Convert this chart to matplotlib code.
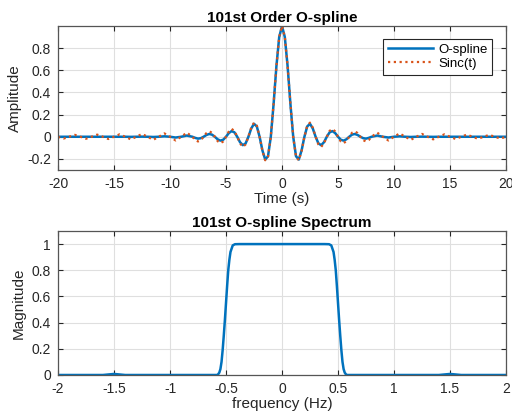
import numpy as np
import matplotlib.pyplot as plt

plt.rcParams['font.family'] = ['Liberation Sans', 'DejaVu Sans']
plt.rcParams['axes.unicode_minus'] = False

# --- time domain: sample times (s) ---
t_left = [-20, -19.5, -19, -18.5, -18, -17.5, -17, -16.5, -16, -15.5, -15, -14.5,
          -14, -13.5, -13, -12.5, -12, -11.5, -11, -10.5, -10, -9.5, -9, -8.5]
t_mid = [-8, -7.75, -7.5, -7.25, -7, -6.75, -6.5, -6.25, -6, -5.75, -5.5, -5.25,
         -5, -4.75, -4.5, -4.25, -4, -3.75, -3.5, -3.25, -3, -2.75, -2.5, -2.25,
         -2, -1.75, -1.5, -1.25, -1, -0.75, -0.5, -0.25, 0,
         0.25, 0.5, 0.75, 1, 1.25, 1.5, 1.75, 2, 2.25, 2.5, 2.75, 3, 3.25, 3.5, 3.75,
         4, 4.25, 4.5, 4.75, 5, 5.25, 5.5, 5.75, 6, 6.25, 6.5, 6.75, 7, 7.25, 7.5, 7.75, 8]
t_right = [8.5, 9, 9.5, 10, 10.5, 11, 11.5, 12, 12.5, 13, 13.5, 14,
           14.5, 15, 15.5, 16, 16.5, 17, 17.5, 18, 18.5, 19, 19.5, 20]

# Sinc(t)
sinc_left = [0, -0.0163, 0, 0.0172, 0, -0.0182, 0, 0.0193, 0, -0.0205, 0, 0.0220,
             0, -0.0236, 0, 0.0255, 0, -0.0277, 0, 0.0303, 0, -0.0335, 0, 0.0374]
sinc_mid = [0, -0.029, -0.0424, -0.031, 0, 0.0333, 0.049, 0.036, 0, -0.0391, -0.0579, -0.0429,
            0, 0.0474, 0.0707, 0.053, 0, -0.060, -0.0909, -0.0693, 0, 0.0818, 0.1273, 0.100,
            0, -0.1286, -0.2122, -0.1801, 0, 0.3001, 0.6366, 0.9003, 1.0,
            0.9003, 0.6366, 0.3001, 0, -0.1801, -0.2122, -0.1286, 0, 0.100, 0.1273, 0.0818,
            0, -0.0693, -0.0909, -0.060, 0, 0.053, 0.0707, 0.0474, 0, -0.0429, -0.0579, -0.0391,
            0, 0.036, 0.049, 0.0333, 0, -0.031, -0.0424, -0.029, 0]
sinc_right = [0.0374, 0, -0.0335, 0, 0.0303, 0, -0.0277, 0, 0.0255, 0, -0.0236, 0,
              0.0220, 0, -0.0205, 0, 0.0193, 0, -0.0182, 0, 0.0172, 0, -0.0163, 0]

# O-spline (side lobes die out faster)
osp_left = [0, 0, 0, 0, 0, 0, 0, 0, 0, 0, 0, 0,
            0, -0.001, 0, 0.001, 0, -0.002, 0, 0.004, 0, -0.007, 0, 0.011]
osp_mid = [0, -0.010, -0.017, -0.013, 0, 0.016, 0.025, 0.019, 0, -0.023, -0.035, -0.027,
           0, 0.033, 0.051, 0.040, 0, -0.049, -0.076, -0.060, 0, 0.074, 0.117, 0.093,
           0, -0.123, -0.206, -0.176, 0, 0.297, 0.637, 0.900, 1.0,
           0.900, 0.637, 0.297, 0, -0.176, -0.206, -0.123, 0, 0.093, 0.117, 0.074,
           0, -0.060, -0.076, -0.049, 0, 0.040, 0.051, 0.033, 0, -0.027, -0.035, -0.023,
           0, 0.019, 0.025, 0.016, 0, -0.013, -0.017, -0.010, 0]
osp_right = [0.011, 0, -0.007, 0, 0.004, 0, -0.002, 0, 0.001, 0, -0.001, 0,
             0, 0, 0, 0, 0, 0, 0, 0, 0, 0, 0, 0]

# --- spectrum ---
freq = [-2, -1.6, -1.55, -1.5, -1.45, -1.4, -0.6, -0.58, -0.57, -0.56, -0.55, -0.54,
        -0.53, -0.52, -0.51, -0.50, -0.49, -0.48, -0.47, -0.46, -0.44, -0.42, -0.38,
        0, 0.38, 0.42, 0.44, 0.46, 0.47, 0.48, 0.49, 0.50, 0.51, 0.52, 0.53, 0.54,
        0.55, 0.56, 0.57, 0.58, 0.6, 1.4, 1.45, 1.5, 1.55, 1.6, 2]
mag = [0, 0, 0.004, 0.008, 0.004, 0, 0, 0, 0.006, 0.018, 0.045, 0.10,
       0.19, 0.30, 0.42, 0.55, 0.68, 0.80, 0.88, 0.94, 0.99, 0.999, 1.0,
       1.0, 1.0, 0.999, 0.99, 0.94, 0.88, 0.80, 0.68, 0.55, 0.42, 0.30, 0.19, 0.10,
       0.045, 0.018, 0.006, 0, 0, 0, 0.004, 0.008, 0.004, 0, 0]

t = t_left + t_mid + t_right
sinc_vals = sinc_left + sinc_mid + sinc_right
osp_vals = osp_left + osp_mid + osp_right

blue = '#0072BD'
orange = '#D95319'
axcol = '#262626'

fig = plt.figure(figsize=(5.12, 4.15), dpi=100)
ax1 = fig.add_axes([0.1133, 0.5904, 0.875, 0.347])
ax2 = fig.add_axes([0.1133, 0.0964, 0.875, 0.347])


def style(ax):
    ax.grid(True, color='#dfdfdf', linewidth=0.8)
    ax.set_axisbelow(True)
    ax.tick_params(direction='in', top=True, right=True, length=3.5,
                   width=0.8, colors=axcol, labelsize=10, pad=5)
    for s in ax.spines.values():
        s.set_color('#555555')
        s.set_linewidth(0.9)


ax1.plot(t, osp_vals, color=blue, linewidth=1.8, label='O-spline')
ax1.plot(t, sinc_vals, color=orange, linewidth=1.6, linestyle=(0, (1, 1.6)), label='Sinc(t)')
ax1.set_xlim(-20, 20)
ax1.set_ylim(-0.3, 1.0)
ax1.set_xticks(range(-20, 21, 5))
ax1.set_yticks([-0.2, 0, 0.2, 0.4, 0.6, 0.8])
ax1.set_yticklabels(['-0.2', '0', '0.2', '0.4', '0.6', '0.8'])
style(ax1)
ax1.set_title('101st Order O-spline', fontsize=11, fontweight='bold', pad=3)
ax1.set_xlabel('Time (s)', fontsize=11, color=axcol, labelpad=1)
ax1.set_ylabel('Amplitude', fontsize=11, color=axcol, labelpad=4)
leg = ax1.legend(loc='upper right', bbox_to_anchor=(0.969, 0.91), borderaxespad=0,
                 fontsize=9.5, handlelength=3.4, fancybox=False, framealpha=1,
                 borderpad=0.35, labelspacing=0.15, handletextpad=0.4)
leg.get_frame().set_edgecolor(axcol)
leg.get_frame().set_linewidth(0.8)

ax2.plot(freq, mag, color=blue, linewidth=1.8)
ax2.set_xlim(-2, 2)
ax2.set_ylim(0, 1.1)
ax2.set_xticks([-2, -1.5, -1, -0.5, 0, 0.5, 1, 1.5, 2])
ax2.set_xticklabels(['-2', '-1.5', '-1', '-0.5', '0', '0.5', '1', '1.5', '2'])
ax2.set_yticks([0, 0.2, 0.4, 0.6, 0.8, 1])
ax2.set_yticklabels(['0', '0.2', '0.4', '0.6', '0.8', '1'])
style(ax2)
ax2.set_title('101st O-spline Spectrum', fontsize=11, fontweight='bold', pad=3)
ax2.set_xlabel('frequency (Hz)', fontsize=11, color=axcol, labelpad=1)
ax2.set_ylabel('Magnitude', fontsize=11, color=axcol, labelpad=4)

fig.savefig('out.png', dpi=100)
